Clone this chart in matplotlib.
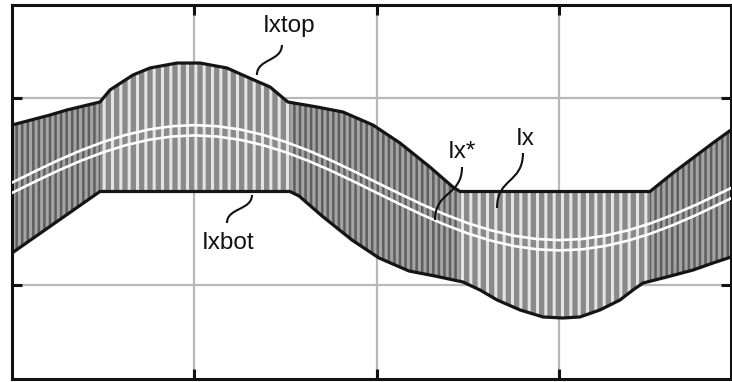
import numpy as np
import matplotlib
matplotlib.use("Agg")
import matplotlib.pyplot as plt
from matplotlib.patches import Polygon, Rectangle, PathPatch
from matplotlib.path import Path

# Reference current Ix* (centre of the ripple band)
ix_star_t = [0.0, 0.125, 0.25, 0.375, 0.5, 0.625, 0.75, 0.875,
             1.0, 1.125, 1.25, 1.375, 1.5, 1.625, 1.75, 1.875,
             2.0, 2.125, 2.25, 2.375, 2.5, 2.625, 2.75, 2.875,
             3.0, 3.125, 3.25, 3.375, 3.5, 3.625, 3.75, 3.875, 3.94]
ix_star = [0.040, 0.160, 0.276, 0.382, 0.475, 0.551, 0.608, 0.643,
           0.655, 0.643, 0.608, 0.551, 0.475, 0.382, 0.276, 0.160,
           0.040, -0.080, -0.196, -0.302, -0.395, -0.471, -0.528, -0.563,
           -0.575, -0.563, -0.528, -0.471, -0.395, -0.302, -0.196, -0.080, -0.018]

# Upper envelope Ixtop
ixtop_t = [0.000, 0.208, 0.301, 0.482, 0.537, 0.663, 0.756, 0.904, 1.030,
           1.178, 1.288, 1.414, 1.512, 1.671, 1.814, 1.978, 2.126, 2.290,
           2.416, 2.455, 3.496, 3.622, 3.753, 3.841, 3.940]
ixtop = [0.711, 0.818, 0.872, 0.957, 1.086, 1.246, 1.321, 1.374, 1.374,
         1.321, 1.225, 1.118, 0.957, 0.904, 0.850, 0.711, 0.519, 0.262,
         0.048, 0.000, 0.000, 0.198, 0.390, 0.519, 0.658]

# Lower envelope Ixbot
ixbot_t = [0.000, 0.482, 1.523, 1.573, 1.699, 1.863, 2.011, 2.175, 2.318,
           2.471, 2.564, 2.658, 2.784, 2.910, 3.019, 3.112, 3.222, 3.332,
           3.403, 3.458, 3.589, 3.732, 3.841, 3.940]
ixbot = [-0.658, 0.000, 0.000, -0.048, -0.262, -0.519, -0.711, -0.850, -0.904,
         -0.968, -1.053, -1.160, -1.267, -1.342, -1.353, -1.342, -1.267, -1.160,
         -1.053, -0.979, -0.914, -0.840, -0.765, -0.701]

# Intervals where one envelope sits on zero (wider switching period)
wide_spans = [(0.482, 1.523), (2.455, 3.496)]

labels = ["Ixtop", "Ixbot", "Ix*", "Ix"]
label_pos = [(1.518, 1.770), (1.184, -0.551), (2.466, 0.422), (2.811, 0.561)]
leader_start = [(1.479, 1.567), (1.315, -0.037), (2.466, 0.262), (2.800, 0.412)]
leader_end = [(1.342, 1.246), (1.178, -0.337), (2.318, -0.305), (2.658, -0.176)]

plt.rcParams["hatch.linewidth"] = 2.2

fig = plt.figure(figsize=(7.32, 3.82), dpi=100)
ax = fig.add_axes([12 / 732, 1 - 378.5 / 382, 719 / 732, 374 / 382])
ax.set_xlim(0, 3.94)
ax.set_ylim(-2, 2)

ax.set_xticks([1, 2, 3])
ax.set_yticks([-1, 1])
ax.grid(color="#b8b8b8", lw=1.6)
ax.set_axisbelow(True)
ax.tick_params(direction="in", length=7, width=2.2, color="#111111",
               top=True, right=True, labelbottom=False, labelleft=False)
for sp in ax.spines.values():
    sp.set_linewidth(2.2)
    sp.set_color("#111111")

# Ripple band between the envelopes
band_x = np.r_[ixtop_t, ixbot_t[::-1]]
band_y = np.r_[ixtop, ixbot[::-1]]
verts = np.column_stack([band_x, band_y])

dense = Polygon(verts, closed=True, facecolor="#5e5e5e", edgecolor="#a4a4a4",
                hatch="|||", lw=0, zorder=2)
ax.add_patch(dense)
for a, b in wide_spans:
    clip = Rectangle((a, -2), b - a, 4, transform=ax.transData)
    wide = Polygon(verts, closed=True, facecolor="#8a8a8a", edgecolor="#e4e4e4",
                   hatch="||", lw=0, zorder=2.1)
    ax.add_patch(wide)
    wide.set_clip_path(clip)

# Envelope outlines
ax.plot(ixtop_t, ixtop, color="#151515", lw=2.3, zorder=4, solid_joinstyle="round")
ax.plot(ixbot_t, ixbot, color="#151515", lw=2.3, zorder=4, solid_joinstyle="round")

# Reference current drawn as a double white line
star = np.asarray(ix_star)
ax.plot(ix_star_t, star + 0.055, color="white", lw=1.9, zorder=3)
ax.plot(ix_star_t, star - 0.055, color="white", lw=1.9, zorder=3)

# Labels with S-shaped leaders
font = ["Liberation Sans Narrow", "Liberation Sans", "DejaVu Sans"]
for txt, pos, p0, p3 in zip(labels, label_pos, leader_start, leader_end):
    ax.text(pos[0], pos[1], txt, ha="center", va="center", fontsize=17.5,
            family=font, color="#111111", zorder=6)
    dy = p3[1] - p0[1]
    p1 = (p0[0], p0[1] + 0.55 * dy)
    p2 = (p3[0], p3[1] - 0.55 * dy)
    path = Path([p0, p1, p2, p3], [Path.MOVETO, Path.CURVE4, Path.CURVE4, Path.CURVE4])
    ax.add_patch(PathPatch(path, fill=False, lw=1.5, color="#111111", zorder=6))

fig.savefig("out.png", dpi=100)
